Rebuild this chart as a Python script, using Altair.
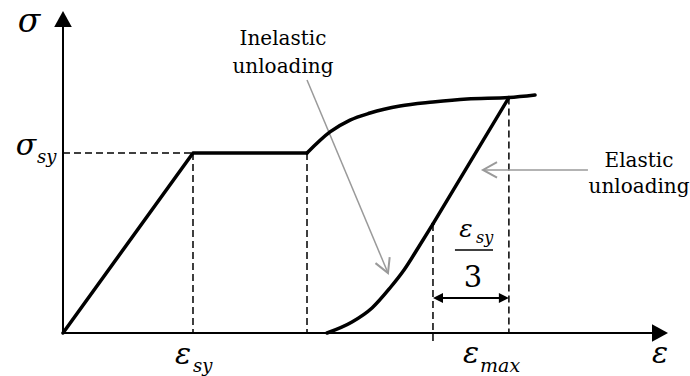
import math
import altair as alt
import pandas as pd

# Idealised stress-strain law, normalised: strain in units of eps_sy, stress in units of sigma_sy
EPS_SY, SIG_SY = 1.0, 1.0
EPS_PLATEAU = 1.877          # end of the yield plateau
EPS_MAX, SIG_MAX = 3.43, 1.308
EPS_KNEE, SIG_KNEE = 2.846, 0.606   # elastic unloading switches to inelastic here

# loading branch: elastic rise then yield plateau
load_strain = [0.0, EPS_SY, EPS_PLATEAU]
load_stress = [0.0, SIG_SY, SIG_SY]

# strain-hardening branch
hard_strain = [1.877, 2.054, 2.208, 2.362, 2.592, 2.846, 3.108, 3.43, 3.631]
hard_stress = [1.0, 1.117, 1.183, 1.222, 1.261, 1.283, 1.300, 1.308, 1.322]

# elastic unloading from eps_max
elastic_strain = [EPS_MAX, EPS_KNEE]
elastic_stress = [SIG_MAX, SIG_KNEE]

# inelastic unloading down to zero stress
inel_strain = [2.846, 2.731, 2.623, 2.515, 2.377, 2.223, 2.031]
inel_stress = [0.606, 0.472, 0.350, 0.250, 0.139, 0.061, 0.0]

W, H = 690, 376
X_DOM = [-0.4846, 4.8231]
Y_DOM = [-0.2389, 1.85]
PX_X = W / (X_DOM[1] - X_DOM[0])
PX_Y = H / (Y_DOM[1] - Y_DOM[0])

xs = alt.Scale(domain=X_DOM, nice=False, zero=False)
ys = alt.Scale(domain=Y_DOM, nice=False, zero=False)

X_TIP, Y_TIP = 4.654, 1.789
SERIF = "DejaVu Serif"
GRAY = "#9a9a9a"


def X(f="x"):
    return alt.X(f"{f}:Q", scale=xs, axis=None)


def Y(f="y"):
    return alt.Y(f"{f}:Q", scale=ys, axis=None)


def screen_angle(x0, y0, x1, y1):
    """Clockwise screen angle (deg) of the direction from (x0,y0) to (x1,y1)."""
    a = math.degrees(math.atan2(-(y1 - y0) * PX_Y, (x1 - x0) * PX_X))
    return a % 360


def rules(rows, **kw):
    df = pd.DataFrame(rows, columns=["x", "y", "x2", "y2"])
    return alt.Chart(df).mark_rule(**kw).encode(
        x=X(), y=Y(), x2="x2:Q", y2="y2:Q")


def curve(strain, stress, interp):
    df = pd.DataFrame({"x": strain, "y": stress, "i": range(len(strain))})
    return alt.Chart(df).mark_line(
        color="black", strokeWidth=3.5, interpolate=interp,
        strokeCap="round", strokeJoin="round").encode(
        x=X(), y=Y(), order="i:Q")


def heads(rows, shape, size, filled, color, sw=1.5):
    df = pd.DataFrame(rows, columns=["x", "y", "ang"])
    return alt.Chart(df).mark_point(
        shape=shape, size=size, filled=filled, color=color, opacity=1,
        strokeWidth=sw).encode(
        x=X(), y=Y(), angle=alt.Angle("ang:Q", scale=None))


def texts(rows, align, italic):
    df = pd.DataFrame(rows, columns=["x", "y", "t", "fs"])
    return alt.Chart(df).mark_text(
        align=align, baseline="alphabetic", font=SERIF,
        fontStyle="italic" if italic else "normal", color="black").encode(
        x=X(), y=Y(), text="t:N", size=alt.Size("fs:Q", scale=None))


# axes
axes = rules([[0, 0, 4.55, 0], [0, 0, 0, 1.70]], color="black", strokeWidth=2)
tri = "M0,0L-1,-0.55L-1,0.55Z"
axis_heads = heads([[X_TIP, 0, 0], [0, Y_TIP, 270]], tri, 4 * 16 ** 2, True, "black")

# dashed guides
guides = rules([
    [0, SIG_SY, EPS_SY, SIG_SY],
    [EPS_SY, SIG_SY, EPS_SY, 0],
    [EPS_PLATEAU, SIG_SY, EPS_PLATEAU, 0],
    [EPS_KNEE, SIG_KNEE, EPS_KNEE, -0.05],
    [EPS_MAX, SIG_MAX, EPS_MAX, 0],
], color="black", strokeWidth=1.5, strokeDash=[7, 4])

# material response
lines = (curve(load_strain, load_stress, "linear")
         + curve(hard_strain, hard_stress, "monotone")
         + curve(elastic_strain, elastic_stress, "linear")
         + curve(inel_strain, inel_stress, "monotone"))

# eps_sy / 3 dimension arrow
DIM_Y = 0.194
dim = rules([[EPS_KNEE + 0.03, DIM_Y, EPS_MAX - 0.03, DIM_Y]], color="black", strokeWidth=2)
dim_heads = heads([[EPS_MAX, DIM_Y, 0], [EPS_KNEE, DIM_Y, 180]],
                  "M0,0L-1,-0.5L-1,0.5Z", 4 * 10 ** 2, True, "black")
frac_bar = rules([[3.015, 0.461, 3.308, 0.461]], color="black", strokeWidth=1.5)

# annotation arrows
inel_from, inel_to = (1.877, 1.406), (2.50, 0.333)
el_from, el_to = (4.038, 0.906), (3.231, 0.906)
pointers = rules([[*inel_from, *inel_to], [*el_from, *el_to]], color=GRAY, strokeWidth=1.5)
chev = "M-1,-0.55L0,0L-1,0.55"
pointer_heads = heads([
    [*inel_to, screen_angle(*inel_from, *inel_to)],
    [*el_to, screen_angle(*el_from, *el_to)],
], chev, 4 * 14 ** 2, False, GRAY, sw=2)

# labels
greek = texts([
    [-0.262, 1.672, "σ", 33],
    [-0.285, 0.989, "σ", 30],
    [0.923, -0.172, "ε", 30],
    [3.138, -0.167, "ε", 30],
    [4.592, -0.167, "ε", 30],
    [3.10, 0.533, "ε", 25],
], "center", True)
subs = texts([
    [-0.20, 0.944, "sy", 18],
    [1.0, -0.217, "sy", 18],
    [3.208, -0.217, "max", 19],
    [3.177, 0.50, "sy", 16],
], "left", True)
words = texts([
    [1.692, 1.600, "Inelastic", 20],
    [1.692, 1.444, "unloading", 20],
    [4.431, 0.922, "Elastic", 20],
    [4.431, 0.778, "unloading", 20],
    [3.154, 0.256, "3", 29],
], "center", False)

chart = alt.layer(
    guides, axes, axis_heads, pointers, pointer_heads, lines,
    dim, dim_heads, frac_bar, greek, subs, words,
).properties(
    width=W, height=H, padding=0, autosize=alt.AutoSizeParams(type="none"),
    background="white",
).configure_view(strokeWidth=0)

chart.save("out.html", embed_options={"renderer": "svg", "actions": False})
